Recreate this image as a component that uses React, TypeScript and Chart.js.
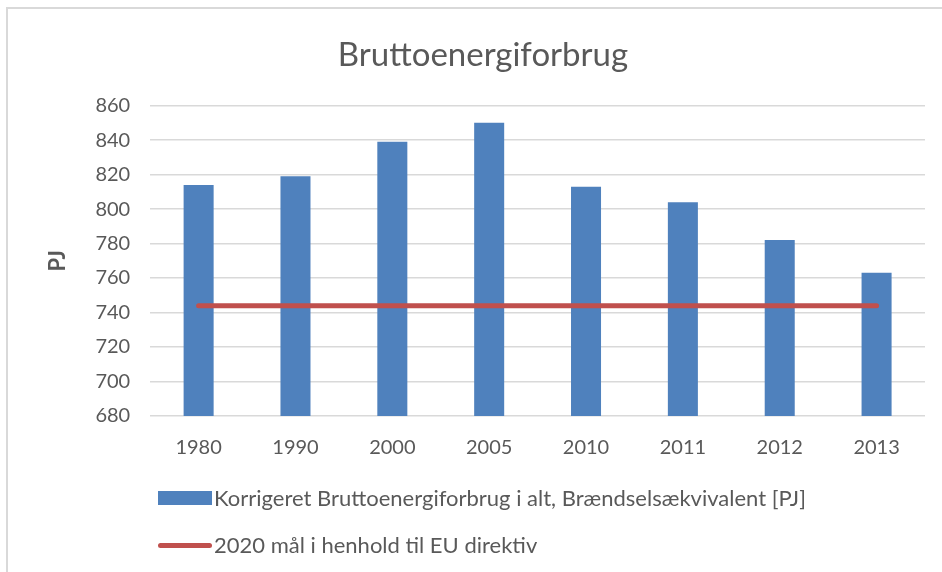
import React, { useEffect, useRef } from "react";
import { Chart, registerables } from "chart.js";

Chart.register(...registerables);

const categories = ["1980", "1990", "2000", "2005", "2010", "2011", "2012", "2013"];
const consumption = [814, 819, 839, 850, 813, 804, 782, 763];
const target2020 = [744, 744, 744, 744, 744, 744, 744, 744];
const barLabel = "Korrigeret Bruttoenergiforbrug i alt, Brændselsækvivalent [PJ]";
const lineLabel = "2020 mål i henhold til EU direktiv";
const titleText = "Bruttoenergiforbrug";
const yAxisTitle = "PJ";
const yMin = 680;
const yMax = 860;
const yStep = 20;

const FONT = "Lato, 'Open Sans', sans-serif";
const TEXT = "#595959";
const BLUE = "#4f81bd";
const RED = "#c0504d";
const GRID = "#d9d9d9";

export default function App() {
  const ref = useRef<HTMLCanvasElement>(null);

  useEffect(() => {
    const chart = new Chart(ref.current as HTMLCanvasElement, {
      type: "bar",
      data: {
        labels: categories,
        datasets: [
          {
            type: "line",
            label: lineLabel,
            data: target2020,
            borderColor: RED,
            backgroundColor: RED,
            borderWidth: 5,
            pointRadius: 0,
            borderCapStyle: "round",
            order: 0,
          } as any,
          {
            type: "bar",
            label: barLabel,
            data: consumption,
            backgroundColor: BLUE,
            barPercentage: 0.31,
            categoryPercentage: 1,
            order: 1,
          },
        ],
      },
      options: {
        animation: false,
        responsive: false,
        maintainAspectRatio: false,
        layout: { padding: { left: 41, right: 17, top: 20, bottom: 92 } },
        plugins: {
          legend: { display: false },
          tooltip: { enabled: false },
          title: {
            display: true,
            text: titleText,
            color: TEXT,
            font: { family: FONT, size: 33, weight: "normal" },
            padding: { top: 16, bottom: 30 },
          },
        },
        scales: {
          x: {
            grid: { display: false, drawTicks: false },
            border: { display: false },
            ticks: { color: TEXT, font: { family: FONT, size: 20 }, padding: 20 },
          },
          y: {
            min: yMin,
            max: yMax,
            ticks: { stepSize: yStep, color: TEXT, font: { family: FONT, size: 20 }, padding: 20 },
            grid: { color: GRID, lineWidth: 1.5, drawTicks: false },
            border: { display: false },
            title: {
              display: true,
              text: yAxisTitle,
              color: TEXT,
              font: { family: FONT, size: 22, weight: "bold" },
              padding: { top: 4, bottom: 4 },
            },
          },
        },
      },
    });
    return () => chart.destroy();
  }, []);

  const textStyle: React.CSSProperties = {
    position: "absolute",
    left: 214,
    fontFamily: FONT,
    fontSize: 22,
    color: TEXT,
    lineHeight: "26px",
    whiteSpace: "nowrap",
  };

  return (
    <div
      style={{
        position: "fixed",
        left: 0,
        top: 0,
        width: 942,
        height: 572,
        background: "#ffffff",
        overflow: "hidden",
      }}
    >
      <div
        style={{
          position: "absolute",
          left: 6,
          top: 7,
          width: 960,
          height: 600,
          borderTop: `2px solid ${GRID}`,
          borderLeft: `2px solid ${GRID}`,
        }}
      />
      <canvas ref={ref} width={942} height={572} style={{ position: "absolute", left: 0, top: 0, display: "block" }} />
      <div style={{ position: "absolute", left: 158, top: 491, width: 54, height: 14, background: BLUE }} />
      <div style={{ ...textStyle, top: 485 }}>{barLabel}</div>
      <div style={{ position: "absolute", left: 158, top: 543, width: 54, height: 5, borderRadius: 3, background: RED }} />
      <div style={{ ...textStyle, top: 532 }}>{lineLabel}</div>
    </div>
  );
}
